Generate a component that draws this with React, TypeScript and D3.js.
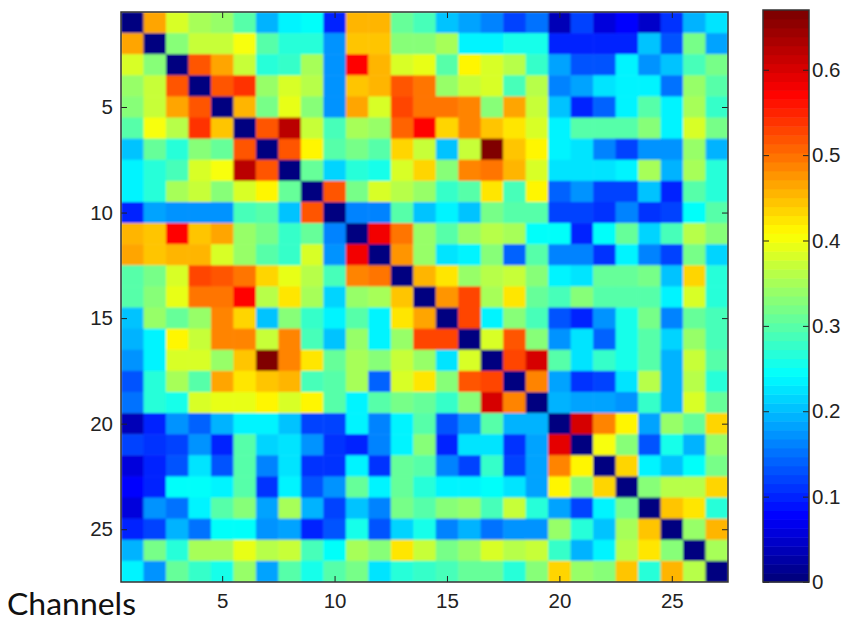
import { useEffect, useRef } from "react"
import * as d3 from "d3"

const channels = d3.range(1, 28)
const xTicks = [5, 10, 15, 20, 25]
const yTicks = [5, 10, 15, 20, 25]
const colorTicks = [0, 0.1, 0.2, 0.3, 0.4, 0.5, 0.6]
const maxValue = 0.67

const matrix = [
  [0, .47, .38, .35, .34, .3, .19, .24, .25, .1, .46, .46, .31, .29, .2, .18, .16, .12, .15, .04, .12, .06, .08, .05, .11, .19, .23],
  [.47, 0, .33, .37, .37, .4, .3, .27, .27, .17, .45, .44, .33, .33, .35, .24, .24, .26, .26, .1, .1, .1, .1, .2, .13, .32, .18],
  [.38, .33, 0, .52, .47, .37, .27, .28, .35, .17, .57, .46, .38, .39, .3, .41, .38, .36, .28, .18, .13, .13, .24, .17, .2, .29, .32],
  [.34, .37, .52, 0, .52, .54, .34, .38, .36, .17, .45, .46, .52, .5, .34, .37, .38, .29, .36, .16, .18, .22, .24, .24, .15, .34, .3],
  [.33, .37, .47, .52, 0, .46, .32, .39, .33, .17, .47, .38, .53, .5, .5, .49, .33, .47, .37, .2, .1, .14, .24, .3, .24, .35, .28],
  [.3, .4, .36, .54, .44, 0, .52, .62, .37, .29, .35, .34, .51, .57, .43, .49, .45, .42, .38, .24, .3, .3, .3, .33, .24, .38, .32],
  [.2, .31, .27, .33, .31, .52, 0, .52, .41, .3, .32, .3, .43, .37, .2, .37, .66, .45, .41, .24, .22, .16, .12, .17, .17, .34, .19],
  [.24, .27, .29, .38, .4, .62, .52, 0, .31, .21, .27, .26, .38, .43, .33, .49, .5, .46, .38, .22, .23, .23, .24, .35, .19, .35, .27],
  [.24, .27, .35, .37, .33, .38, .41, .31, 0, .52, .32, .38, .36, .34, .28, .3, .42, .29, .41, .14, .17, .12, .12, .2, .1, .3, .27],
  [.1, .18, .17, .17, .17, .29, .3, .2, .52, 0, .16, .16, .3, .2, .24, .2, .32, .3, .3, .12, .12, .11, .16, .11, .12, .25, .3],
  [.46, .45, .57, .45, .47, .34, .32, .28, .31, .16, 0, .58, .5, .34, .3, .34, .36, .35, .25, .25, .1, .25, .31, .21, .29, .36, .33],
  [.47, .44, .46, .46, .38, .34, .3, .28, .38, .17, .58, 0, .48, .34, .23, .24, .33, .14, .3, .16, .16, .11, .24, .16, .12, .32, .21],
  [.3, .32, .38, .53, .52, .5, .43, .39, .36, .29, .49, .5, 0, .46, .42, .34, .36, .37, .33, .24, .23, .31, .31, .32, .2, .43, .27],
  [.3, .33, .39, .5, .5, .57, .36, .42, .35, .21, .34, .35, .45, 0, .48, .53, .35, .42, .31, .29, .33, .3, .3, .3, .24, .38, .27],
  [.2, .34, .31, .34, .49, .43, .2, .33, .28, .24, .3, .24, .42, .47, 0, .53, .24, .33, .29, .13, .1, .17, .26, .32, .16, .31, .29],
  [.19, .24, .41, .37, .49, .49, .37, .49, .29, .2, .34, .24, .34, .53, .53, 0, .38, .52, .33, .17, .23, .14, .26, .3, .21, .34, .29],
  [.17, .24, .38, .38, .34, .45, .66, .49, .42, .31, .35, .33, .37, .34, .23, .38, 0, .53, .6, .3, .23, .28, .26, .3, .19, .37, .3],
  [.13, .27, .35, .3, .47, .42, .45, .46, .29, .3, .35, .14, .38, .42, .33, .52, .53, 0, .49, .18, .11, .12, .22, .36, .19, .36, .27],
  [.15, .27, .26, .38, .39, .39, .41, .38, .41, .3, .24, .3, .32, .31, .28, .33, .6, .49, 0, .19, .18, .18, .17, .28, .19, .38, .31],
  [.04, .1, .17, .14, .19, .24, .24, .2, .12, .12, .24, .16, .24, .3, .13, .17, .3, .19, .19, 0, .6, .49, .41, .18, .34, .31, .43],
  [.12, .11, .12, .17, .1, .3, .21, .23, .17, .11, .1, .16, .24, .33, .1, .23, .23, .11, .18, .59, 0, .4, .33, .13, .26, .19, .34],
  [.06, .1, .13, .22, .13, .3, .16, .23, .11, .11, .24, .11, .31, .3, .16, .12, .28, .12, .18, .49, .41, 0, .43, .24, .2, .25, .32],
  [.08, .1, .25, .25, .24, .3, .11, .24, .13, .17, .31, .24, .31, .27, .24, .24, .25, .22, .18, .41, .33, .43, 0, .33, .36, .36, .43],
  [.06, .17, .15, .24, .3, .33, .18, .35, .19, .12, .2, .16, .32, .3, .33, .34, .29, .37, .27, .18, .12, .24, .32, 0, .44, .42, .27],
  [.1, .12, .19, .15, .25, .25, .17, .18, .1, .13, .26, .13, .21, .26, .16, .19, .15, .17, .17, .34, .27, .2, .35, .44, 0, .34, .46],
  [.19, .32, .27, .35, .35, .39, .36, .37, .29, .25, .35, .33, .42, .37, .32, .34, .38, .36, .37, .28, .19, .24, .36, .42, .33, 0, .35],
  [.24, .17, .31, .28, .26, .34, .18, .3, .26, .3, .32, .22, .27, .28, .29, .31, .31, .27, .33, .43, .34, .33, .44, .27, .46, .36, 0],
]

// matlab jet, 64 levels
const jetStops = [
  [0, "#000080"],
  [0.11, "#0000ff"],
  [0.36, "#00ffff"],
  [0.61, "#ffff00"],
  [0.86, "#ff0000"],
  [1, "#800000"],
] as const
const jetRamp = d3
  .scaleLinear<string>()
  .domain(jetStops.map((d) => d[0]))
  .range(jetStops.map((d) => d[1]))
  .interpolate(d3.interpolateRgb)
const levels = d3.range(64)
const jet = (v: number) => {
  const level = Math.min(63, Math.floor((v / maxValue) * 64))
  return jetRamp(level / 63)
}

export default function App() {
  const svgRef = useRef<SVGSVGElement>(null)

  useEffect(() => {
    if (!svgRef.current) return
    const svg = d3.select(svgRef.current)
    svg.selectAll("*").remove()

    const left = 121
    const right = 728
    const top = 12
    const bottom = 582
    const barLeft = 763
    const barRight = 809
    const barTop = 10

    const x = d3.scaleLinear().domain([0.5, 27.5]).range([left, right])
    const y = d3.scaleLinear().domain([0.5, 27.5]).range([top, bottom])
    const c = d3.scaleLinear().domain([0, maxValue]).range([bottom, barTop])

    const defs = svg.append("defs")
    defs.append("filter").attr("id", "soft").append("feGaussianBlur").attr("stdDeviation", 1)
    defs.append("clipPath").attr("id", "plot").append("rect")
      .attr("x", left).attr("y", top).attr("width", right - left).attr("height", bottom - top)

    // heatmap cells
    const cells = matrix.flatMap((row, r) => row.map((v, k) => ({ r: channels[r], k: channels[k], v })))
    svg.append("g").attr("clip-path", "url(#plot)").append("g").attr("filter", "url(#soft)")
      .selectAll("rect")
      .data(cells)
      .enter()
      .append("rect")
      .attr("x", (d) => x(d.k - 0.5))
      .attr("y", (d) => y(d.r - 0.5))
      .attr("width", x(2) - x(1) + 0.5)
      .attr("height", y(2) - y(1) + 0.5)
      .attr("fill", (d) => jet(d.v))

    // colorbar
    svg.append("g").selectAll("rect")
      .data(levels)
      .enter()
      .append("rect")
      .attr("x", barLeft)
      .attr("width", barRight - barLeft)
      .attr("y", (d) => c(((d + 1) / 64) * maxValue))
      .attr("height", (bottom - barTop) / 64 + 0.5)
      .attr("fill", (d) => jetRamp(d / 63))

    const styleAxis = (g: d3.Selection<SVGGElement, unknown, null, undefined>) => {
      g.selectAll("text").attr("font-family", "Liberation Sans, sans-serif").attr("font-size", 20.5).attr("fill", "#222")
      g.selectAll("line").attr("stroke", "#222")
      g.selectAll("path").remove()
    }

    const tickFmt = (d: d3.NumberValue) => String(d)
    svg.append("g").attr("transform", `translate(0,${bottom})`)
      .call(d3.axisBottom(x).tickValues(xTicks).tickFormat(tickFmt).tickSizeInner(-6).tickPadding(11))
      .call(styleAxis)
    svg.append("g").attr("transform", `translate(0,${top})`)
      .call(d3.axisTop(x).tickValues(xTicks).tickFormat(() => "").tickSizeInner(-6))
      .call(styleAxis)
    svg.append("g").attr("transform", `translate(${left},0)`)
      .call(d3.axisLeft(y).tickValues(yTicks).tickFormat(tickFmt).tickSizeInner(-6).tickPadding(8))
      .call(styleAxis)
    svg.append("g").attr("transform", `translate(${right},0)`)
      .call(d3.axisRight(y).tickValues(yTicks).tickFormat(() => "").tickSizeInner(-6))
      .call(styleAxis)

    svg.append("g").attr("transform", `translate(${barRight},0)`)
      .call(d3.axisRight(c).tickValues(colorTicks).tickFormat((d) => (d === 0 ? "0" : String(d))).tickSizeInner(-6).tickPadding(3))
      .call(styleAxis)
    svg.append("g").attr("transform", `translate(${barLeft},0)`)
      .call(d3.axisLeft(c).tickValues(colorTicks).tickFormat(() => "").tickSizeInner(-6))
      .call(styleAxis)

    // frames
    svg.append("rect").attr("x", left).attr("y", top).attr("width", right - left).attr("height", bottom - top)
      .attr("fill", "none").attr("stroke", "#333").attr("stroke-width", 1.5)
    svg.append("rect").attr("x", barLeft).attr("y", barTop).attr("width", barRight - barLeft).attr("height", bottom - barTop)
      .attr("fill", "none").attr("stroke", "#333").attr("stroke-width", 1.5)

    svg.append("text")
      .attr("x", 7)
      .attr("y", 615)
      .attr("font-family", "Lato, sans-serif")
      .attr("font-size", 30)
      .attr("fill", "#111")
      .attr("textLength", 129)
      .attr("lengthAdjust", "spacingAndGlyphs")
      .text("Channels")
  }, [])

  return <svg ref={svgRef} width={851} height={626} style={{ position: "absolute", left: 0, top: 0, background: "#fff" }} />
}
